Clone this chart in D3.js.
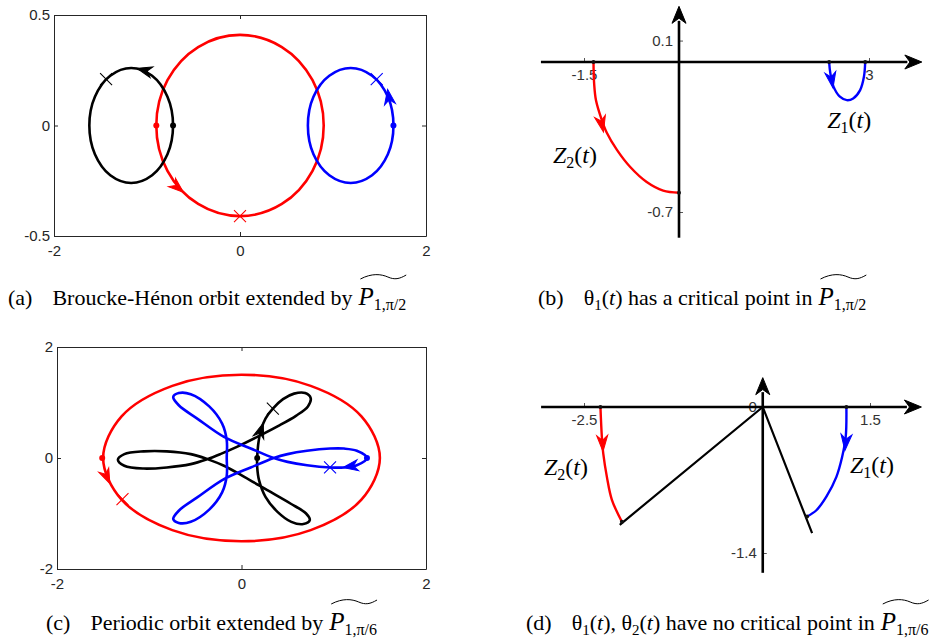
<!DOCTYPE html>
<html>
<head>
<meta charset="utf-8">
<script src="https://cdn.jsdelivr.net/npm/d3@7"></script>
<style>
  body { margin: 0; background: #fff; }
  svg text { font-family: "Liberation Sans", Arial, sans-serif; }
</style>
</head>
<body>
<svg id="fig" width="948" height="642"></svg>
<script>
// ---------- data ----------
// panel (a): Broucke-Henon orbit
const aXTicks = [-2, 0, 2]
const aYTicks = [-0.5, 0, 0.5]
const aOrbitRed = [[0.90,0],[0.78,0.205],[0.45,0.355],[0,0.41],[-0.45,0.355],[-0.78,0.205],[-0.90,0],[-0.78,-0.205],[-0.45,-0.355],[0,-0.41],[0.45,-0.355],[0.78,-0.205]]
const aOrbitBlack = [[-0.72,0],[-0.78,0.13],[-0.945,0.225],[-1.17,0.26],[-1.395,0.225],[-1.56,0.13],[-1.62,0],[-1.56,-0.13],[-1.395,-0.225],[-1.17,-0.26],[-0.945,-0.225],[-0.78,-0.13]]
const aOrbitBlue = [[1.65,0],[1.59,0.13],[1.42,0.225],[1.19,0.26],[0.96,0.225],[0.79,0.13],[0.73,0],[0.79,-0.13],[0.96,-0.225],[1.19,-0.26],[1.42,-0.225],[1.59,-0.13]]
// order in the next three: red, black, blue
const aStarts = [[-0.90,0],[-0.72,0],[1.65,0]]
const aCrosses = [[0,-0.41],[-1.44,0.21],[1.47,0.21]]
const aArrows = [[[-0.67,-0.28],[-0.60,-0.305]],[[-1.03,0.25],[-1.10,0.258]],[[1.60,0.13],[1.585,0.17]]]

// panel (c): periodic orbit
const cXTicks = [-2, 0, 2]
const cYTicks = [-2, 0, 2]
const cOrbitRed = [[1.5,0],[1.3,0.75],[0.75,1.3],[0,1.5],[-0.75,1.3],[-1.3,0.75],[-1.5,0],[-1.3,-0.75],[-0.75,-1.3],[0,-1.5],[0.75,-1.3],[1.3,-0.75]]
const cOrbitBlack = [[0.17,0],[0.18,0.23],[0.21,0.50],[0.26,0.71],[0.34,0.89],[0.45,1.06],[0.57,1.16],[0.69,1.17],[0.75,1.08],[0.72,0.93],[0.59,0.76],[0.39,0.57],[0.17,0.38],[-0.05,0.20],[-0.23,0.07],[-0.37,-0.02],[-0.55,-0.11],[-0.81,-0.17],[-1.06,-0.19],[-1.27,-0.14],[-1.34,-0.03],[-1.27,0.07],[-1.06,0.12],[-0.81,0.12],[-0.55,0.07],[-0.37,-0.02],[-0.19,-0.14],[0.03,-0.34],[0.28,-0.58],[0.53,-0.82],[0.70,-1.00],[0.74,-1.12],[0.67,-1.19],[0.54,-1.15],[0.39,-0.97],[0.26,-0.70],[0.19,-0.40],[0.17,-0.16]]
const cOrbitBlue = [[1.36,0],[1.25,-0.13],[1.11,-0.17],[0.96,-0.17],[0.71,-0.13],[0.50,-0.07],[0.35,0],[0.10,0.17],[-0.19,0.38],[-0.48,0.71],[-0.68,0.95],[-0.74,1.10],[-0.68,1.17],[-0.55,1.15],[-0.35,0.93],[-0.21,0.62],[-0.16,0.32],[-0.16,0],[-0.16,-0.32],[-0.21,-0.62],[-0.35,-0.93],[-0.55,-1.15],[-0.68,-1.17],[-0.74,-1.10],[-0.68,-0.95],[-0.48,-0.71],[-0.19,-0.38],[0.10,-0.17],[0.35,0],[0.50,0.07],[0.71,0.13],[0.96,0.17],[1.11,0.17],[1.25,0.13]]
const cStarts = [[-1.51,0],[0.17,0],[1.36,0]]
const cCrosses = [[-1.29,-0.74],[0.34,0.89],[0.96,-0.17]]
const cArrows = [[[-1.46,-0.34],[-1.43,-0.45]],[[0.21,0.50],[0.23,0.60]],[[1.18,-0.15],[1.10,-0.17]]]

// panel (b): Z1(t), Z2(t) with pi/2
const bXTicks = [-1.5, 3]
const bYTicks = [0.1, -0.7]
const bAxisX = [-2.18, 3.7]
const bAxisY = [-0.82, 0.22]
const bZ2 = [[-1.35,0],[-1.34,-0.10],[-1.31,-0.18],[-1.22,-0.27],[-1.14,-0.33],[-0.98,-0.41],[-0.77,-0.49],[-0.51,-0.56],[-0.25,-0.60],[0,-0.61]]
const bZ1 = [[2.37,0],[2.39,-0.053],[2.44,-0.115],[2.54,-0.162],[2.65,-0.178],[2.75,-0.17],[2.86,-0.131],[2.92,-0.069],[2.94,0]]
const bZ2Arrow = [[-1.22,-0.29],[-1.19,-0.33]]
const bZ1Arrow = [[2.41,-0.085],[2.43,-0.12]]
const bZ2Label = [-1.99, -0.47]
const bZ1Label = [2.34, -0.31]

// panel (d): Z1(t), Z2(t) with pi/6
const dXTicks = [-2.5, 1.5]
const dYTicks = [0, -1.4]
const dAxisX = [-3.1, 2.1]
const dAxisY = [-1.59, 0.2]
const dZ2 = [[-2.27,0],[-2.25,-0.29],[-2.23,-0.45],[-2.18,-0.67],[-2.11,-0.89],[-1.97,-1.10]]
const dZ1 = [[1.17,0],[1.16,-0.29],[1.11,-0.48],[1.03,-0.67],[0.89,-0.86],[0.75,-0.99],[0.62,-1.05]]
const dChord = [[-2.0,-1.13],[0,0],[0.69,-1.21]]
const dZ2Arrow = [[-2.24,-0.35],[-2.235,-0.42]]
const dZ1Arrow = [[1.16,-0.34],[1.15,-0.41]]
const dZ2Label = [-3.06, -0.65]
const dZ1Label = [1.22, -0.63]

// ---------- styles ----------
const bodyColors = ["#ff0000", "#000000", "#0000ff"]
const axisColor = "#262626"

let svg = d3.select("#fig")

function arrowHead(g, sx, sy, p, q, color, len, half) {
  let x0 = sx(p[0]), y0 = sy(p[1])
  let a = Math.atan2(sy(q[1]) - y0, sx(q[0]) - x0) * 180 / Math.PI
  g.append("path")
    .attr("d", `M${len/2},0 L${-len/2},${-half} L${-len/5},0 L${-len/2},${half} Z`)
    .attr("transform", `translate(${x0},${y0}) rotate(${a})`)
    .style("fill", color)
    .style("stroke", color)
    .style("stroke-width", 1)
    .style("stroke-linejoin", "miter")
}

function crossMark(g, sx, sy, p, color, s) {
  g.append("path")
    .attr("d", `M${-s},${-s}L${s},${s}M${-s},${s}L${s},${-s}`)
    .attr("transform", `translate(${sx(p[0])},${sy(p[1])})`)
    .style("stroke", color)
    .style("stroke-width", 1.1)
    .style("fill", "none")
}

// ---------- orbit panels (a) and (c) ----------
function orbitPanel(xr, yr, yDom, xt, yt, orbits, starts, crosses, arrows) {
  let x = d3.scaleLinear().domain([-2, 2]).range(xr)
  let y = d3.scaleLinear().domain(yDom).range(yr)
  let g = svg.append("g")

  let fmt = d => String(d)
  let styleAxis = sel => {
    sel.selectAll("path.domain").style("stroke", axisColor).style("stroke-width", 1)
    sel.selectAll(".tick line").style("stroke", axisColor).style("stroke-width", 1)
    sel.selectAll(".tick text").style("fill", axisColor).style("font-size", "15px")
      .style("font-family", "Liberation Sans, Arial, sans-serif")
  }

  g.append("g").attr("transform", `translate(0,${yr[0]})`)
    .call(d3.axisBottom(x).tickValues(xt).tickSizeInner(-4).tickSizeOuter(0).tickPadding(9).tickFormat(fmt))
    .call(styleAxis)
  g.append("g").attr("transform", `translate(0,${yr[1]})`)
    .call(d3.axisTop(x).tickValues(xt).tickSizeInner(-4).tickSizeOuter(0).tickFormat(""))
    .call(styleAxis)
  g.append("g").attr("transform", `translate(${xr[0]},0)`)
    .call(d3.axisLeft(y).tickValues(yt).tickSizeInner(-4).tickSizeOuter(0).tickPadding(4).tickFormat(fmt))
    .call(styleAxis)
  g.append("g").attr("transform", `translate(${xr[1]},0)`)
    .call(d3.axisRight(y).tickValues(yt).tickSizeInner(-4).tickSizeOuter(0).tickFormat(""))
    .call(styleAxis)

  let line = d3.line().x(d => x(d[0])).y(d => y(d[1])).curve(d3.curveCatmullRomClosed.alpha(0.5))

  g.append("g").selectAll("path")
    .data(orbits)
    .join("path")
    .attr("d", d => line(d))
    .style("fill", "none")
    .style("stroke", (d, i) => bodyColors[i])
    .style("stroke-width", 2.6)

  g.append("g").selectAll("circle")
    .data(starts)
    .join("circle")
    .attr("cx", d => x(d[0]))
    .attr("cy", d => y(d[1]))
    .attr("r", 3)
    .style("fill", (d, i) => bodyColors[i])

  crosses.forEach((p, i) => crossMark(g, x, y, p, bodyColors[i], 6))
  arrows.forEach((a, i) => arrowHead(g, x, y, a[0], a[1], bodyColors[i], 15, 5.5))
}

orbitPanel([54, 426], [236, 15], [-0.5, 0.5], aXTicks, aYTicks,
  [aOrbitRed, aOrbitBlack, aOrbitBlue], aStarts, aCrosses, aArrows)
orbitPanel([57, 426], [569, 347], [-2, 2], cXTicks, cYTicks,
  [cOrbitRed, cOrbitBlack, cOrbitBlue], cStarts, cCrosses, cArrows)

// ---------- angle panels (b) and (d) ----------
function zLabel(g, x, y, pos, idx) {
  let t = g.append("text")
    .attr("x", x(pos[0]))
    .attr("y", y(pos[1]))
    .style("font-family", "Liberation Serif, serif")
    .style("font-size", "24px")
    .style("fill", "#000")
  t.append("tspan").style("font-style", "italic").text("Z")
  t.append("tspan").attr("dy", 5).style("font-size", "16px").text(idx)
  t.append("tspan").attr("dy", -5).text("(")
  t.append("tspan").style("font-style", "italic").text("t")
  t.append("tspan").text(")")
}

function anglePanel(xDom, xRng, yDom, yRng, axX, axY, xt, yt, curves, arrows, chord, labels) {
  let x = d3.scaleLinear().domain(xDom).range(xRng)
  let y = d3.scaleLinear().domain(yDom).range(yRng)
  let g = svg.append("g")

  let styleAxis = sel => {
    sel.select("path.domain").remove()
    sel.selectAll(".tick line").style("stroke", "#555").style("stroke-width", 1)
    sel.selectAll(".tick text").style("fill", "#333").style("font-size", "15px")
      .style("font-family", "Liberation Sans, Arial, sans-serif")
  }
  g.append("g").attr("transform", `translate(0,${y(0)})`)
    .call(d3.axisBottom(x).tickValues(xt).tickSizeInner(-4).tickPadding(7).tickFormat(d => String(d)))
    .call(styleAxis)
  g.append("g").attr("transform", `translate(${x(0)},0)`)
    .call(d3.axisLeft(y).tickValues(yt).tickSizeInner(-4).tickPadding(6).tickFormat(d => String(d)))
    .call(styleAxis)

  // axis lines with arrow heads
  g.append("line")
    .attr("x1", x(axX[0])).attr("x2", x(axX[1]) - 6)
    .attr("y1", y(0)).attr("y2", y(0))
    .style("stroke", "#000").style("stroke-width", 2.6)
  g.append("line")
    .attr("x1", x(0)).attr("x2", x(0))
    .attr("y1", y(axY[0])).attr("y2", y(axY[1]) + 6)
    .style("stroke", "#000").style("stroke-width", 2.6)
  arrowHead(g, x, y, [axX[1], 0], [axX[1] + 1, 0], "#000", 17, 7)
  arrowHead(g, x, y, [0, axY[1]], [0, axY[1] + 1], "#000", 17, 7)

  let line = d3.line().x(d => x(d[0])).y(d => y(d[1])).curve(d3.curveCatmullRom.alpha(0.5))

  if (chord) {
    g.append("path")
      .attr("d", d3.line().x(d => x(d[0])).y(d => y(d[1]))(chord))
      .style("fill", "none").style("stroke", "#000").style("stroke-width", 2.2)
  }

  let curveColors = [bodyColors[0], bodyColors[2]]
  g.append("g").selectAll("path")
    .data(curves)
    .join("path")
    .attr("d", d => line(d))
    .style("fill", "none")
    .style("stroke", (d, i) => curveColors[i])
    .style("stroke-width", 2.4)

  let ends = curves.flatMap(c => [c[0], c[c.length - 1]])
  g.append("g").selectAll("circle")
    .data(ends)
    .join("circle")
    .attr("cx", d => x(d[0]))
    .attr("cy", d => y(d[1]))
    .attr("r", 2)
    .style("fill", "#111")

  arrows.forEach((a, i) => arrowHead(g, x, y, a[0], a[1], curveColors[i], 16, 5.5))

  zLabel(g, x, y, labels[0], "2")
  zLabel(g, x, y, labels[1], "1")
}

anglePanel([-1.5, 3], [584, 869], [0, -0.7], [62, 212], bAxisX, bAxisY, bXTicks, bYTicks,
  [bZ2, bZ1], [bZ2Arrow, bZ1Arrow], null, [bZ2Label, bZ1Label])
anglePanel([-2.5, 1.5], [584, 870], [0, -1.4], [407, 553], dAxisX, dAxisY, dXTicks, dYTicks,
  [dZ2, dZ1], [dZ2Arrow, dZ1Arrow], dChord, [dZ2Label, dZ1Label])

// ---------- captions ----------
function caption(x0, y0, tag, parts, sub) {
  let t = svg.append("text")
    .attr("x", x0)
    .attr("y", y0)
    .style("font-family", "Liberation Serif, 'Times New Roman', serif")
    .style("font-size", "22px")
    .style("fill", "#000")
  t.append("tspan").text(tag)
  let first = true
  parts.forEach(p => {
    let s = t.append("tspan").text(p.s)
    if (first) { s.attr("dx", 20); first = false }
    if (p.i) s.style("font-style", "italic")
    if (p.sub) s.attr("dy", 5).style("font-size", "15px")
    if (p.up) s.attr("dy", -5)
  })
  let before = t.node().getNumberOfChars()
  t.append("tspan").style("font-style", "italic").style("font-size", "25px").attr("dx", 6).text("P")
  t.append("tspan").attr("dy", 5).style("font-size", "16px").text(sub)
  let n = t.node()
  let start = n.getStartPositionOfChar(before).x + 2
  let end = n.getEndPositionOfChar(n.getNumberOfChars() - 1).x
  let w = end - start, ty = y0 - 29
  svg.append("path")
    .attr("d", `M${start},${ty + 3} C${start + w * 0.25},${ty - 3} ${start + w * 0.45},${ty - 2} ${start + w * 0.6},${ty + 1} S${start + w * 0.85},${ty + 3} ${end},${ty - 1}`)
    .style("fill", "none")
    .style("stroke", "#000")
    .style("stroke-width", 1)
}

caption(8, 305, "(a)", [{ s: "Broucke-Hénon orbit extended by" }], "1,π/2")
caption(538, 305, "(b)", [
  { s: "θ" }, { s: "1", sub: true }, { s: "(", up: true }, { s: "t", i: true }, { s: ") has a critical point in" }
], "1,π/2")
caption(46, 630, "(c)", [{ s: "Periodic orbit extended by" }], "1,π/6")
caption(526, 630, "(d)", [
  { s: "θ" }, { s: "1", sub: true }, { s: "(", up: true }, { s: "t", i: true }, { s: "), θ" },
  { s: "2", sub: true }, { s: "(", up: true }, { s: "t", i: true }, { s: ") have no critical point in" }
], "1,π/6")
</script>
</body>
</html>
